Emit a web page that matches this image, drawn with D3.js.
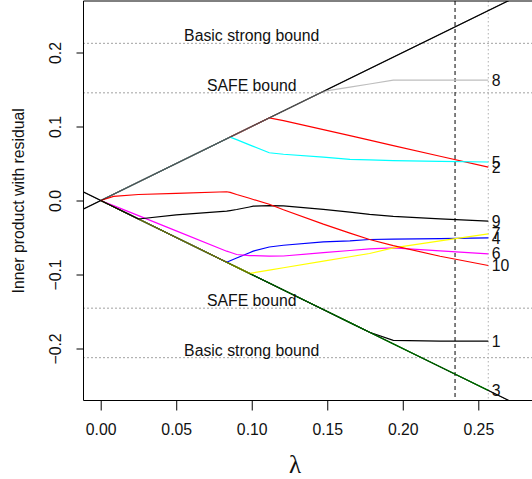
<!DOCTYPE html>
<html>
<head>
<meta charset="utf-8">
<script src="https://cdn.jsdelivr.net/npm/d3@7"></script>
<style>
  body { margin: 0; background: #fff; }
  text { font-family: "Liberation Sans", Arial, sans-serif; }
</style>
</head>
<body>
<div id="canvas"></div>
<script>
// lambda grid shared by all paths
const lambda = [0, 0.0085, 0.025, 0.05, 0.0834, 0.0857, 0.09, 0.0985, 0.101, 0.1116, 0.121, 0.1474, 0.165, 0.178, 0.1937, 0.2247, 0.2566];

// inner product with residual for each variable
const v1 = [0, -0.0085, -0.025, -0.05, -0.0834, -0.0857, -0.09, -0.0985, -0.101, -0.1116, -0.121, -0.1474, -0.165, -0.178, -0.189, -0.19, -0.19];
const v2 = [0, 0.0085, 0.025, 0.05, 0.0834, 0.0857, 0.09, 0.0985, 0.101, 0.1116, 0.108, 0.0957, 0.0876, 0.0815, 0.0742, 0.0598, 0.045];
const v3 = [0, -0.0085, -0.025, -0.05, -0.0834, -0.0857, -0.09, -0.0985, -0.101, -0.1116, -0.121, -0.1474, -0.165, -0.178, -0.1937, -0.2247, -0.2566];
const v4 = [0, -0.0085, -0.025, -0.05, -0.0834, -0.0815, -0.0778, -0.0706, -0.0685, -0.0628, -0.0605, -0.056, -0.0545, -0.0527, -0.0521, -0.0514, -0.0505];
const v5 = [0, 0.0085, 0.025, 0.05, 0.0834, 0.0857, 0.0822, 0.0752, 0.0732, 0.0645, 0.0625, 0.0585, 0.0555, 0.0548, 0.054, 0.053, 0.052];
const v6 = [0, -0.007, -0.0205, -0.041, -0.0685, -0.070, -0.073, -0.0745, -0.0745, -0.0752, -0.075, -0.0705, -0.0676, -0.0655, -0.064, -0.068, -0.072];
const v7 = [0, -0.0085, -0.025, -0.05, -0.0834, -0.0857, -0.09, -0.0985, -0.0977, -0.0941, -0.0909, -0.082, -0.076, -0.0716, -0.064, -0.0545, -0.045];
const v8 = [0, 0.0085, 0.025, 0.05, 0.0834, 0.0857, 0.09, 0.0985, 0.101, 0.1116, 0.121, 0.1474, 0.1532, 0.1574, 0.1626, 0.1626, 0.1626];
const v9 = [0, -0.0085, -0.025, -0.0195, -0.0144, -0.0137, -0.0122, -0.0088, -0.0077, -0.0068, -0.0072, -0.012, -0.0158, -0.0188, -0.0215, -0.0248, -0.028];
const v10 = [0, 0.0055, 0.0081, 0.0097, 0.0118, 0.011, 0.0081, 0.003, 0.0014, -0.005, -0.0125, -0.032, -0.044, -0.0527, -0.061, -0.0753, -0.0878];

const paths = [v1, v2, v3, v4, v5, v6, v7, v8, v9, v10];
const pathLabels = ["1", "2", "3", "4", "5", "6", "7", "8", "9", "10"];
const palette = ["#000000", "#ff0000", "#00cd00", "#0000ff", "#00ffff", "#ff00ff", "#ffff00", "#bebebe"];

// screening bounds
const boundNames = ["Basic strong bound", "SAFE bound", "SAFE bound", "Basic strong bound"];
const boundLevels = [0.2124, 0.1455, -0.1455, -0.2124];
const lambdaMax = 0.2566;
const lambdaSel = 0.2346;

const xTicks = [0, 0.05, 0.1, 0.15, 0.2, 0.25];
const yTicks = [-0.2, -0.1, 0, 0.1, 0.2];

const W = 532, H = 479;
const plot = { left: 83.5, top: 1, right: 620, bottom: 400.5 };

const svg = d3
  .select("#canvas")
  .append("svg")
  .attr("width", W)
  .attr("height", H);

const x = d3.scaleLinear().domain([0, 0.25]).range([100.7, 478.3]);
const y = d3.scaleLinear().domain([-0.2, 0.2]).range([348.5, 52.5]);

svg
  .append("clipPath")
  .attr("id", "clip")
  .append("rect")
  .attr("x", plot.left)
  .attr("y", plot.top)
  .attr("width", plot.right - plot.left)
  .attr("height", plot.bottom - plot.top);

const graph = svg.append("g").attr("clip-path", "url(#clip)");

// dotted horizontal bounds
graph
  .selectAll("line.bound")
  .data(boundLevels)
  .enter()
  .append("line")
  .attr("x1", plot.left)
  .attr("x2", plot.right)
  .attr("y1", d => y(d))
  .attr("y2", d => y(d))
  .style("stroke", "#444")
  .style("stroke-width", 1)
  .style("stroke-dasharray", "1,3");

// lambda max (gray dotted) and chosen lambda (dashed)
graph
  .append("line")
  .attr("x1", x(lambdaMax))
  .attr("x2", x(lambdaMax))
  .attr("y1", plot.top)
  .attr("y2", plot.bottom)
  .style("stroke", "#b0b0b0")
  .style("stroke-width", 1)
  .style("stroke-dasharray", "1.5,2.5");

graph
  .append("line")
  .attr("x1", x(lambdaSel))
  .attr("x2", x(lambdaSel))
  .attr("y1", plot.top)
  .attr("y2", plot.bottom)
  .style("stroke", "black")
  .style("stroke-width", 1)
  .style("stroke-dasharray", "4,3");

// +/- lambda lines
const lamLo = x.invert(plot.left);
const lamHi = x.invert(plot.right);
function drawDiag(opacity) {
  graph
    .append("g")
    .selectAll("line")
    .data([1, -1])
    .enter()
    .append("line")
    .attr("x1", x(lamLo))
    .attr("x2", x(lamHi))
    .attr("y1", s => y(s * lamLo))
    .attr("y2", s => y(s * lamHi))
    .style("stroke", "black")
    .style("stroke-opacity", opacity)
    .style("stroke-width", 1.1);
}
drawDiag(1);

const line = d3
  .line()
  .x((d, i) => x(lambda[i]))
  .y(d => y(d));

graph
  .selectAll("path.var")
  .data(paths)
  .enter()
  .append("path")
  .attr("class", "var")
  .attr("d", line)
  .style("fill", "none")
  .style("stroke", (d, i) => palette[i % palette.length])
  .style("stroke-width", 1.2);

drawDiag(0.62);

// bound labels
svg
  .selectAll("text.bound")
  .data(boundLevels)
  .enter()
  .append("text")
  .attr("x", x(0.1))
  .attr("y", d => y(d) - 2)
  .attr("text-anchor", "middle")
  .style("font-size", "15.8px")
  .style("fill", "#111")
  .text((d, i) => boundNames[i]);

// end labels of each path
svg
  .selectAll("text.end")
  .data(paths)
  .enter()
  .append("text")
  .attr("x", x(lambdaMax) + 3.5)
  .attr("y", d => y(d[d.length - 1]))
  .attr("dy", "0.36em")
  .style("font-size", "15.8px")
  .style("fill", "#111")
  .text((d, i) => pathLabels[i]);

// frame: left, top, bottom
svg
  .append("path")
  .attr("d", `M${plot.right},${plot.top}H${plot.left}V${plot.bottom}H${plot.right}`)
  .style("fill", "none")
  .style("stroke", "black")
  .style("stroke-width", 1);

// axes
const xAxis = svg
  .append("g")
  .attr("transform", `translate(0, ${plot.bottom})`)
  .call(
    d3.axisBottom(x)
      .tickValues(xTicks)
      .tickSize(10)
      .tickPadding(13)
      .tickFormat(d3.format(".2f"))
  );
xAxis.select(".domain").remove();
xAxis.selectAll("text").style("font-size", "15.8px").style("font-family", "Liberation Sans, Arial, sans-serif").style("fill", "#111");

const yAxis = svg
  .append("g")
  .attr("transform", `translate(${plot.left}, 0)`)
  .call(
    d3.axisLeft(y)
      .tickValues(yTicks)
      .tickSize(7)
      .tickFormat(d3.format(".1f"))
  );
yAxis.select(".domain").remove();
yAxis
  .selectAll("text")
  .attr("x", null)
  .attr("dy", null)
  .attr("text-anchor", "middle")
  .attr("transform", "translate(-22.5, 0) rotate(-90)")
  .style("font-size", "15.8px")
  .style("font-family", "Liberation Sans, Arial, sans-serif")
  .style("fill", "#111");

// axis titles
svg
  .append("text")
  .attr("transform", `translate(24, ${(plot.top + plot.bottom) / 2}) rotate(-90)`)
  .attr("text-anchor", "middle")
  .style("font-size", "15.8px")
  .style("fill", "#111")
  .text("Inner product with residual");

svg
  .append("text")
  .attr("x", 295)
  .attr("y", 473)
  .attr("text-anchor", "middle")
  .style("font-family", "Liberation Serif, serif")
  .style("font-size", "25px")
  .style("fill", "#111")
  .text("λ");
</script>
</body>
</html>
